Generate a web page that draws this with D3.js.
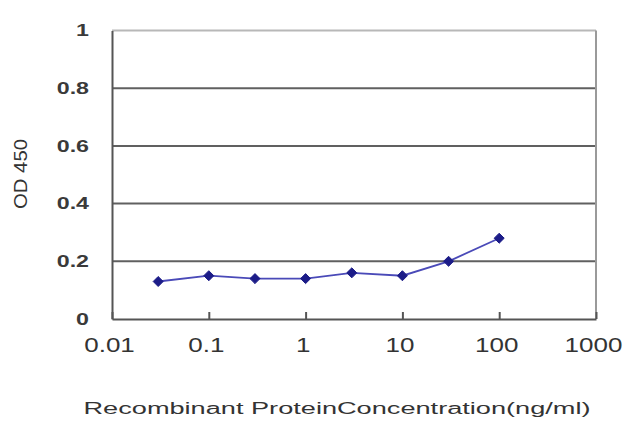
<!DOCTYPE html>
<html>
<head>
<meta charset="utf-8">
<script src="https://cdn.jsdelivr.net/npm/d3@7"></script>
<style>
  body { margin: 0; background: #fff; }
  text { font-family: Arial, "Liberation Sans", sans-serif; }
</style>
</head>
<body>
<svg id="chart" width="640" height="427"></svg>
<script>
// concentration (ng/ml) and OD 450 readings
const concentrations = [0.03, 0.1, 0.3, 1, 3, 10, 30, 100];
const odValues = [0.13, 0.15, 0.14, 0.14, 0.16, 0.15, 0.2, 0.28];
const xTicks = [0.01, 0.1, 1, 10, 100, 1000];
const xTickLabels = ["0.01", "0.1", "1", "10", "100", "1000"];
const yTicks = [0, 0.2, 0.4, 0.6, 0.8, 1];
const yTickLabels = ["0", "0.2", "0.4", "0.6", "0.8", "1"];
const xTitle = "Recombinant ProteinConcentration(ng/ml)";
const yTitle = "OD 450";

const margin = { top: 30.5, right: 44, bottom: 108, left: 112 };
const width = 640 - margin.left - margin.right;
const height = 427 - margin.top - margin.bottom;

const svg = d3.select("#chart");
const g = svg.append("g")
  .attr("transform", `translate(${margin.left},${margin.top})`);

const x = d3.scaleLog().domain([0.01, 1000]).range([0, width]);
const y = d3.scaleLinear().domain([0, 1]).range([height, 0]);

// stretch text horizontally like the (scaled-up) original
function stretch(sel, k) {
  sel.each(function () {
    const w = this.getComputedTextLength();
    d3.select(this)
      .attr("textLength", w * k)
      .attr("lengthAdjust", "spacingAndGlyphs");
  });
}

// gridlines
g.append("g")
  .selectAll("line")
  .data(yTicks.filter(d => d > 0))
  .join("line")
  .attr("x1", 0)
  .attr("x2", width)
  .attr("y1", d => y(d))
  .attr("y2", d => y(d))
  .attr("stroke", d => d === 1 ? "#b8b8b8" : "#606060")
  .attr("stroke-width", 2);

// right border
g.append("line")
  .attr("x1", width).attr("x2", width)
  .attr("y1", 0).attr("y2", height)
  .attr("stroke", "#9a9a9a")
  .attr("stroke-width", 2);

// y axis
const yAxis = d3.axisLeft(y)
  .tickValues(yTicks)
  .tickFormat((d, i) => yTickLabels[i])
  .tickSize(0)
  .tickPadding(23);
const yg = g.append("g").call(yAxis);
yg.select(".domain").attr("stroke", "#555").attr("stroke-width", 2);
yg.selectAll("text")
  .attr("font-size", 16)
  .attr("font-weight", "bold")
  .attr("fill", "#3a3a3a")
  .call(stretch, 1.45);

// x axis
const xAxis = d3.axisBottom(x)
  .tickValues(xTicks)
  .tickFormat((d, i) => xTickLabels[i])
  .tickSizeInner(-7)
  .tickSizeOuter(0)
  .tickPadding(19);
const xg = g.append("g")
  .attr("transform", `translate(0,${height})`)
  .call(xAxis);
xg.select(".domain").attr("stroke", "#555").attr("stroke-width", 2);
xg.selectAll(".tick line").attr("stroke", "#555").attr("stroke-width", 2);
xg.selectAll("text")
  .attr("font-size", 20)
  .attr("fill", "#333")
  .attr("dx", -3)
  .call(stretch, 1.3);

// series line
const line = d3.line()
  .x((d, i) => x(concentrations[i]))
  .y(d => y(d));

g.append("path")
  .datum(odValues)
  .attr("d", line)
  .attr("fill", "none")
  .attr("stroke", "#4a4ab8")
  .attr("stroke-width", 1.8);

// diamond markers
g.append("g")
  .selectAll("path")
  .data(odValues)
  .join("path")
  .attr("transform", (d, i) => `translate(${x(concentrations[i])},${y(d)})`)
  .attr("d", d3.symbol(d3.symbolDiamond2, 64))
  .attr("fill", "#1c1c88")
  .attr("stroke", "#1c1c88")
  .attr("stroke-width", 1);

// axis titles
svg.append("text")
  .attr("x", 337)
  .attr("y", 414)
  .attr("text-anchor", "middle")
  .attr("font-size", 16)
  .attr("fill", "#333")
  .attr("textLength", 507)
  .attr("lengthAdjust", "spacingAndGlyphs")
  .text(xTitle);

svg.append("text")
  .attr("transform", "translate(27,174) rotate(-90)")
  .attr("text-anchor", "middle")
  .attr("font-size", 18)
  .attr("fill", "#333")
  .attr("textLength", 70)
  .attr("lengthAdjust", "spacingAndGlyphs")
  .text(yTitle);
</script>
</body>
</html>
